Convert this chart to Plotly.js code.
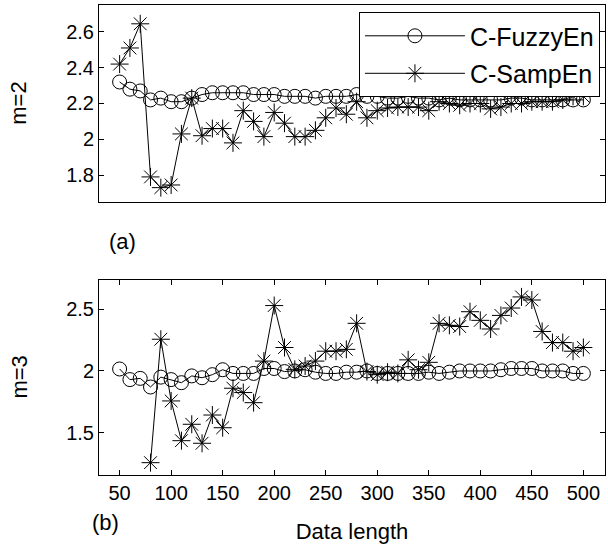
<!DOCTYPE html>
<html>
<head>
<meta charset="utf-8">
<script src="https://cdn.plot.ly/plotly-3.0.1.min.js"></script>
<style>html,body{margin:0;padding:0;background:#fff}#chart{width:608px;height:544px}</style>
</head>
<body>
<div id="chart"></div>
<script>
var dataLength = [50,60,70,80,90,100,110,120,130,140,150,160,170,180,190,200,210,220,230,240,250,260,270,280,290,300,310,320,330,340,350,360,370,380,390,400,410,420,430,440,450,460,470,480,490,500];

var fuzzyM2 = [2.32,2.28,2.27,2.22,2.23,2.21,2.21,2.23,2.25,2.26,2.26,2.26,2.26,2.25,2.25,2.25,2.24,2.24,2.24,2.23,2.24,2.24,2.24,2.25,2.24,2.24,2.23,2.23,2.24,2.23,2.23,2.22,2.23,2.22,2.22,2.22,2.22,2.22,2.23,2.23,2.22,2.22,2.22,2.22,2.22,2.22];
var sampM2 = [2.42,2.51,2.645,1.79,1.73,1.745,2.03,2.23,2.02,2.06,2.06,1.98,2.16,2.10,2.015,2.15,2.09,2.015,2.015,2.05,2.12,2.175,2.14,2.21,2.12,2.16,2.175,2.18,2.18,2.18,2.16,2.21,2.20,2.19,2.20,2.20,2.17,2.18,2.20,2.20,2.21,2.21,2.21,2.22,2.24,2.24];

var fuzzyM3 = [2.016,1.93,1.94,1.87,1.95,1.93,1.905,1.96,1.945,1.97,2.01,1.98,1.98,1.98,2.02,2.02,1.995,2.0,2.01,1.99,1.98,1.98,1.99,1.99,2.0,1.98,1.98,1.98,1.98,1.98,1.99,1.98,1.99,2.0,2.0,2.0,2.0,2.01,2.02,2.02,2.02,2.0,2.0,2.0,1.98,1.98];
var sampM3 = [null,null,null,1.257,2.257,1.757,1.435,1.568,1.414,1.643,1.54,1.86,1.825,1.743,2.08,2.53,2.19,2.013,2.04,2.08,2.16,2.16,2.175,2.386,1.995,1.97,1.99,1.98,2.09,2.01,2.07,2.386,2.37,2.36,2.48,2.41,2.34,2.45,2.51,2.60,2.575,2.32,2.23,2.23,2.16,2.19];

var xTicks = [50,100,150,200,250,300,350,400,450,500];
var yTicksM2 = [1.8,2,2.2,2.4,2.6];
var yTicksM3 = [1.5,2,2.5];
var seriesNames = ['C-FuzzyEn','C-SampEn'];

var F = 'Liberation Sans, Arial, Helvetica, sans-serif';
var circ = {symbol:'circle-open', size:14, color:'#000', line:{color:'#000', width:1}};
var star = {symbol:'asterisk-open', size:15, color:'#000', line:{color:'#000', width:1}};
var ln = {color:'#000', width:1};

var traces = [
  {x:dataLength, y:fuzzyM2, name:seriesNames[0], legendgroup:'g1', mode:'lines+markers', marker:circ, line:ln, xaxis:'x', yaxis:'y'},
  {x:dataLength, y:sampM2, name:seriesNames[1], legendgroup:'g2', mode:'lines+markers', marker:star, line:ln, xaxis:'x', yaxis:'y'},
  {x:dataLength, y:fuzzyM3, name:seriesNames[0], legendgroup:'g1', mode:'lines+markers', marker:circ, line:ln, xaxis:'x2', yaxis:'y2', showlegend:false},
  {x:dataLength, y:sampM3, name:seriesNames[1], legendgroup:'g2', mode:'lines+markers', marker:star, line:ln, xaxis:'x2', yaxis:'y2', showlegend:false}
];

var axCommon = {showline:true, linecolor:'#000', linewidth:1, showgrid:false, zeroline:false,
  ticks:'inside', ticklen:5, tickcolor:'#000', tickfont:{family:F, size:20, color:'#000'}};

var layout = {
  width:608, height:544,
  margin:{l:99, r:3, t:5, b:69},
  paper_bgcolor:'#fff', plot_bgcolor:'#fff',
  font:{family:F, color:'#000'},
  showlegend:true,
  legend:{x:0.99, y:0.985, xanchor:'right', yanchor:'top', bgcolor:'#fff', bordercolor:'#000', borderwidth:1,
    font:{family:F, size:25, color:'#000'}, itemwidth:100, tracegroupgap:2},
  xaxis: Object.assign({}, axCommon, {domain:[0,1], range:[30,521], anchor:'y', mirror:true, ticks:'', showticklabels:false, tickvals:xTicks}),
  yaxis: Object.assign({}, axCommon, {domain:[0.5809,1], range:[1.65,2.75], anchor:'x', mirror:'ticks', tickvals:yTicksM2, ticktext:['1.8','2','2.2','2.4','2.6']}),
  xaxis2: Object.assign({}, axCommon, {domain:[0,1], range:[30,521], anchor:'y2', mirror:'ticks', tickvals:xTicks,
    title:{text:'Data length', font:{family:F, size:22, color:'#000'}, standoff:20}}),
  yaxis2: Object.assign({}, axCommon, {domain:[0,0.4149], range:[1.157,2.737], anchor:'x2', mirror:'ticks', tickvals:yTicksM3, ticktext:['1.5','2','2.5']}),
  annotations:[
    {xref:'paper', yref:'paper', x:-0.158, y:0.79, text:'m=2', textangle:-90, showarrow:false, font:{family:F, size:22, color:'#000'}, xanchor:'center', yanchor:'middle'},
    {xref:'paper', yref:'paper', x:-0.158, y:0.2074, text:'m=3', textangle:-90, showarrow:false, font:{family:F, size:22, color:'#000'}, xanchor:'center', yanchor:'middle'},
    {xref:'paper', yref:'paper', x:0.016, y:0.496, text:'(a)', showarrow:false, font:{family:F, size:22, color:'#000'}, xanchor:'left', yanchor:'middle'},
    {xref:'paper', yref:'paper', x:-0.017, y:-0.1, text:'(b)', showarrow:false, font:{family:F, size:22, color:'#000'}, xanchor:'left', yanchor:'middle'}
  ]
};

Plotly.newPlot('chart', traces, layout, {displayModeBar:false, staticPlot:true});
</script>
</body>
</html>
